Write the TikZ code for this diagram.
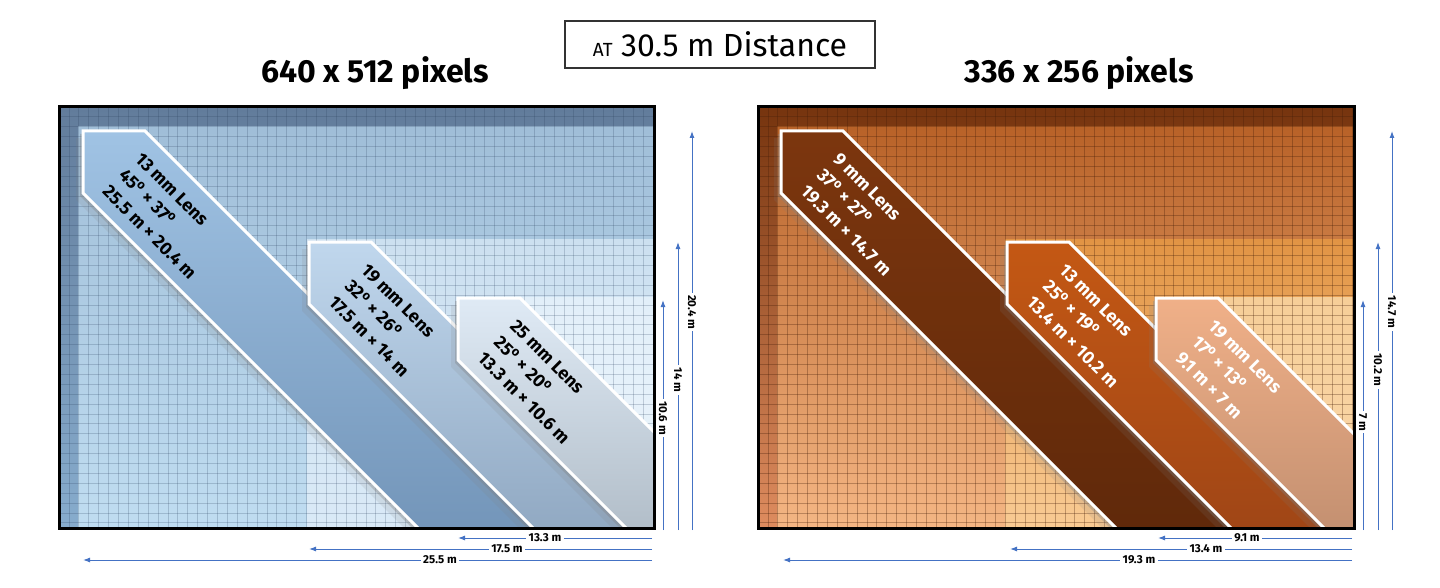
\documentclass[tikz,border=0pt]{standalone}
\usepackage{fontspec}
\setmainfont{Fira Sans}
\usetikzlibrary{arrows.meta,shadows}
\definecolor{dimblue}{RGB}{68,114,196}
% left panel (blue)
\definecolor{blueouttop}{RGB}{98,124,155}
\definecolor{blueoutbot}{RGB}{135,172,205}
\definecolor{bluewidetop}{RGB}{160,190,216}
\definecolor{bluewidebot}{RGB}{192,221,241}
\definecolor{bluemidtop}{RGB}{204,224,240}
\definecolor{bluemidbot}{RGB}{218,234,247}
\definecolor{bluenartop}{RGB}{226,239,249}
\definecolor{bluenarbot}{RGB}{234,244,251}
\definecolor{bluegrid}{RGB}{40,62,92}
\definecolor{bandAtop}{RGB}{160,195,228}
\definecolor{bandAbot}{RGB}{112,146,182}
\definecolor{bandBtop}{RGB}{192,215,237}
\definecolor{bandBbot}{RGB}{140,164,190}
\definecolor{bandCtop}{RGB}{223,234,245}
\definecolor{bandCbot}{RGB}{172,184,195}
% right panel (orange)
\definecolor{orouttop}{RGB}{118,52,14}
\definecolor{oroutbot}{RGB}{222,140,95}
\definecolor{orwidetop}{RGB}{184,98,40}
\definecolor{orwidebot}{RGB}{244,182,132}
\definecolor{ormidtop}{RGB}{226,148,68}
\definecolor{ormidbot}{RGB}{249,203,148}
\definecolor{ornartop}{RGB}{246,206,152}
\definecolor{ornarbot}{RGB}{250,216,170}
\definecolor{orgrid}{RGB}{70,30,8}
\definecolor{bandDtop}{RGB}{124,54,14}
\definecolor{bandDbot}{RGB}{94,40,10}
\definecolor{bandEtop}{RGB}{196,88,20}
\definecolor{bandEbot}{RGB}{156,68,22}
\definecolor{bandFtop}{RGB}{240,176,136}
\definecolor{bandFbot}{RGB}{190,140,110}

\begin{document}
\begin{tikzpicture}[
      x=1pt,y=-1pt,
      lens/.style={draw=white,line width=3pt,
                   drop shadow={shadow xshift=-3pt,shadow yshift=-3pt,opacity=.35},
                   drop shadow={shadow xshift=-7pt,shadow yshift=-7pt,opacity=.15}},
      lenstext/.style={anchor=west,rotate=-45,align=left,inner sep=0pt,
                       font=\fontsize{18}{23}\selectfont\bfseries},
      gridblue/.style={draw=bluegrid,opacity=.22,line width=.8pt},
      gridorange/.style={draw=orgrid,opacity=.32,line width=.8pt},
      frame/.style={draw=black,line width=3pt},
      dim/.style={draw=dimblue,line width=1pt,-{Latex[length=7pt,width=5pt]}},
      dimlabel/.style={fill=white,inner sep=2.5pt,font=\fontsize{11.5}{12}\selectfont\bfseries},
      title/.style={font=\fontsize{32}{36}\selectfont\bfseries}]
    \useasboundingbox[fill=white] (0,0) rectangle (1440,588);

    \node[draw=black!80,line width=1.5pt,minimum width=310pt,minimum height=47pt,
          font=\fontsize{32}{36}\selectfont] (dist) at (720,44.5)
      {{\fontsize{19}{20}\selectfont AT} 30.5 m Distance};
    \node[title] (resA) at (375,73) {640 x 512 pixels};
    \node[title] (resB) at (1079,73) {336 x 256 pixels};

    % 640 x 512
    \begin{scope}
      \clip (59,107) rectangle (654,528);
      \fill[top color=blueouttop,bottom color=blueoutbot] (59,107) rectangle (654,528);
      \fill[top color=bluewidetop,bottom color=bluewidebot] (78,127) rectangle (654,528);
      \fill[top color=bluemidtop,bottom color=bluemidbot] (307,239) rectangle (654,528);
      \fill[top color=bluenartop,bottom color=bluenarbot] (456,297) rectangle (654,528);
      \foreach \gx in {59,68.9,...,654} \draw[gridblue] (\gx,107) -- (\gx,528);
      \foreach \gy in {107,116.9,...,528} \draw[gridblue] (59,\gy) -- (654,\gy);
      \path[lens,top color=bandAtop,bottom color=bandAbot]
        (83,131) -- (145,131) -- (574,560) -- (450,560) -- (83,193) -- cycle;
      \path[lens,top color=bandBtop,bottom color=bandBbot]
        (309,242) -- (371,242) -- (689,560) -- (565,560) -- (309,304) -- cycle;
      \path[lens,top color=bandCtop,bottom color=bandCbot]
        (458,298) -- (520,298) -- (782,560) -- (658,560) -- (458,360) -- cycle;
      \node[lenstext] (lensA) at (122,172)
        {13 mm Lens\\45\textsuperscript{o} × 37\textsuperscript{o}\\25.5 m × 20.4 m};
      \node[lenstext] (lensB) at (348,283)
        {19 mm Lens\\32\textsuperscript{o} × 26\textsuperscript{o}\\17.5 m × 14 m};
      \node[lenstext] (lensC) at (497,339)
        {25 mm Lens\\25\textsuperscript{o} × 20\textsuperscript{o}\\13.3 m × 10.6 m};
    \end{scope}
    \draw[frame] (59,107) rectangle (654,528);

    % 336 x 256
    \begin{scope}
      \clip (758,107) rectangle (1354,528);
      \fill[top color=orouttop,bottom color=oroutbot] (758,107) rectangle (1354,528);
      \fill[top color=orwidetop,bottom color=orwidebot] (777,127) rectangle (1354,528);
      \fill[top color=ormidtop,bottom color=ormidbot] (1005,239) rectangle (1354,528);
      \fill[top color=ornartop,bottom color=ornarbot] (1155,297) rectangle (1354,528);
      \foreach \gx in {758,767.9,...,1354} \draw[gridorange] (\gx,107) -- (\gx,528);
      \foreach \gy in {107,116.9,...,528} \draw[gridorange] (758,\gy) -- (1354,\gy);
      \path[lens,top color=bandDtop,bottom color=bandDbot]
        (781,131) -- (843,131) -- (1272,560) -- (1148,560) -- (781,193) -- cycle;
      \path[lens,top color=bandEtop,bottom color=bandEbot]
        (1007,242) -- (1069,242) -- (1387,560) -- (1263,560) -- (1007,304) -- cycle;
      \path[lens,top color=bandFtop,bottom color=bandFbot]
        (1156,298) -- (1218,298) -- (1480,560) -- (1356,560) -- (1156,360) -- cycle;
      \node[lenstext,text=white] (lensD) at (820,172)
        {9 mm Lens\\37\textsuperscript{o} × 27\textsuperscript{o}\\19.3 m × 14.7 m};
      \node[lenstext,text=white] (lensE) at (1046,283)
        {13 mm Lens\\25\textsuperscript{o} × 19\textsuperscript{o}\\13.4 m × 10.2 m};
      \node[lenstext,text=white] (lensF) at (1195,339)
        {19 mm Lens\\17\textsuperscript{o} × 13\textsuperscript{o}\\9.1 m × 7 m};
    \end{scope}
    \draw[frame] (758,107) rectangle (1354,528);

    % widths
    \coordinate (wA0) at (652,538); \coordinate (wA1) at (458,538);
    \coordinate (wB0) at (652,549); \coordinate (wB1) at (309,549);
    \coordinate (wC0) at (652,560); \coordinate (wC1) at (83,560);
    \coordinate (wD0) at (1352,538); \coordinate (wD1) at (1158,538);
    \coordinate (wE0) at (1352,549); \coordinate (wE1) at (1010,549);
    \coordinate (wF0) at (1352,560); \coordinate (wF1) at (783,560);
    \draw[dim] (wA0) -- (wA1);
    \draw[dim] (wB0) -- (wB1);
    \draw[dim] (wC0) -- (wC1);
    \draw[dim] (wD0) -- (wD1);
    \draw[dim] (wE0) -- (wE1);
    \draw[dim] (wF0) -- (wF1);
    \node[dimlabel] (wA) at (545,538) {13.3 m};
    \node[dimlabel] (wB) at (507,549) {17.5 m};
    \node[dimlabel] (wC) at (440,560) {25.5 m};
    \node[dimlabel] (wD) at (1247,538) {9.1 m};
    \node[dimlabel] (wE) at (1206,549) {13.4 m};
    \node[dimlabel] (wF) at (1139,560) {19.3 m};

    % heights
    \coordinate (hA0) at (663,530); \coordinate (hA1) at (663,300);
    \coordinate (hB0) at (678,530); \coordinate (hB1) at (678,242);
    \coordinate (hC0) at (692,530); \coordinate (hC1) at (692,131);
    \coordinate (hD0) at (1363,530); \coordinate (hD1) at (1363,300);
    \coordinate (hE0) at (1378,530); \coordinate (hE1) at (1378,242);
    \coordinate (hF0) at (1392,530); \coordinate (hF1) at (1392,131);
    \draw[dim] (hA0) -- (hA1);
    \draw[dim] (hB0) -- (hB1);
    \draw[dim] (hC0) -- (hC1);
    \draw[dim] (hD0) -- (hD1);
    \draw[dim] (hE0) -- (hE1);
    \draw[dim] (hF0) -- (hF1);
    \node[dimlabel,rotate=-90] (hA) at (663,418) {10.6 m};
    \node[dimlabel,rotate=-90] (hB) at (678,380) {14 m};
    \node[dimlabel,rotate=-90] (hC) at (692,312) {20.4 m};
    \node[dimlabel,rotate=-90] (hD) at (1363,422) {7 m};
    \node[dimlabel,rotate=-90] (hE) at (1378,370) {10.2 m};
    \node[dimlabel,rotate=-90] (hF) at (1392,312) {14.7 m};
  \end{tikzpicture}
\end{document}
